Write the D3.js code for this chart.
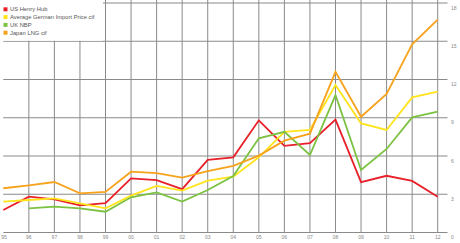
<!DOCTYPE html>
<html><head><meta charset="utf-8">
<script src="https://cdn.jsdelivr.net/npm/d3@7"></script>
<style>html,body{margin:0;padding:0;background:#fff;}svg{display:block;}</style>
</head><body>
<svg id="c" width="460" height="243"></svg>
<script>
const years = [1995,1996,1997,1998,1999,2000,2001,2002,2003,2004,2005,2006,2007,2008,2009,2010,2011,2012];
const yearLabels = ["95","96","97","98","99","00","01","02","03","04","05","06","07","08","09","10","11","12"];
const usHenryHub = [1.76,2.81,2.6,2.13,2.31,4.25,4.1,3.4,5.7,5.9,8.8,6.8,7.0,8.85,3.95,4.45,4.05,2.8];
const germanImport = [2.42,2.55,2.68,2.29,1.9,2.89,3.65,3.28,4.06,4.38,5.9,7.9,8.04,11.57,8.56,8.04,10.6,11.04];
const ukNBP = [null,1.9,2.03,1.9,1.63,2.76,3.15,2.42,3.33,4.43,7.39,7.9,6.08,10.78,4.9,6.55,9.03,9.48];
const japanLNG = [3.47,3.7,3.96,3.07,3.18,4.77,4.65,4.3,4.82,5.22,6.03,7.2,7.75,12.6,9.08,10.86,14.76,16.7];
const yTicks = [0,3,6,9,12,15,18];
const seriesNames = ["US Henry Hub","Average German Import Price cif","UK NBP","Japan LNG cif"];
const seriesColors = ["#e8202a","#ffe41c","#7cc242","#f7a21b"];
const seriesData = [usHenryHub, germanImport, ukNBP, japanLNG];

const svg = d3.select("#c");
const x = d3.scaleLinear().domain([1995,2012]).range([3.3,437.7]);
const y = d3.scaleLinear().domain([0,18]).range([232.5,3]);
const font = "Liberation Sans, Arial, sans-serif";

// horizontal gridlines
svg.append("g").selectAll("line").data(yTicks).join("line")
  .attr("x1", x(1995)).attr("x2", 447.5)
  .attr("y1", d => y(d)).attr("y2", d => y(d))
  .attr("stroke", "#8a8a8a").attr("stroke-width", 1);
// vertical gridlines
svg.append("g").selectAll("line").data(years.slice(1)).join("line")
  .attr("x1", d => x(d)).attr("x2", d => x(d))
  .attr("y1", 0).attr("y2", y(0))
  .attr("stroke", "#8a8a8a").attr("stroke-width", 1);

// x labels
svg.append("g").selectAll("text").data(years).join("text")
  .attr("x", d => Math.max(x(d), 4)).attr("y", 239)
  .attr("text-anchor", "middle")
  .attr("font-family", font).attr("font-size", 5).attr("fill", "#888")
  .text((d,i) => yearLabels[i]);
// y labels
svg.append("g").selectAll("text").data(yTicks).join("text")
  .attr("x", 451).attr("y", d => y(d) + 6.5)
  .attr("font-family", font).attr("font-size", 5).attr("fill", "#888")
  .text(d => d);

// lines
const line = d3.line().defined(d => d.v != null).x(d => x(d.year)).y(d => y(d.v));
seriesData.forEach((s, i) => {
  svg.append("path")
    .datum(years.map((yr, j) => ({year: yr, v: s[j]})))
    .attr("d", line)
    .attr("fill", "none")
    .attr("stroke", seriesColors[i])
    .attr("stroke-width", 1.8)
    .attr("stroke-linejoin", "miter");
});

// legend
const lg = svg.append("g");
lg.append("rect").attr("x", 0).attr("y", 0).attr("width", 103).attr("height", y(15) - 0.5).attr("fill", "#fff");
seriesNames.forEach((n, i) => {
  const cy = 9.3 + i * 7.8;
  lg.append("rect").attr("x", 3.5).attr("y", cy - 2).attr("width", 4).attr("height", 4).attr("fill", seriesColors[i]);
  lg.append("text").attr("x", 10).attr("y", cy + 2)
    .attr("font-family", font).attr("font-size", 5.8).attr("fill", "#555").text(n);
});
</script>
</body></html>
